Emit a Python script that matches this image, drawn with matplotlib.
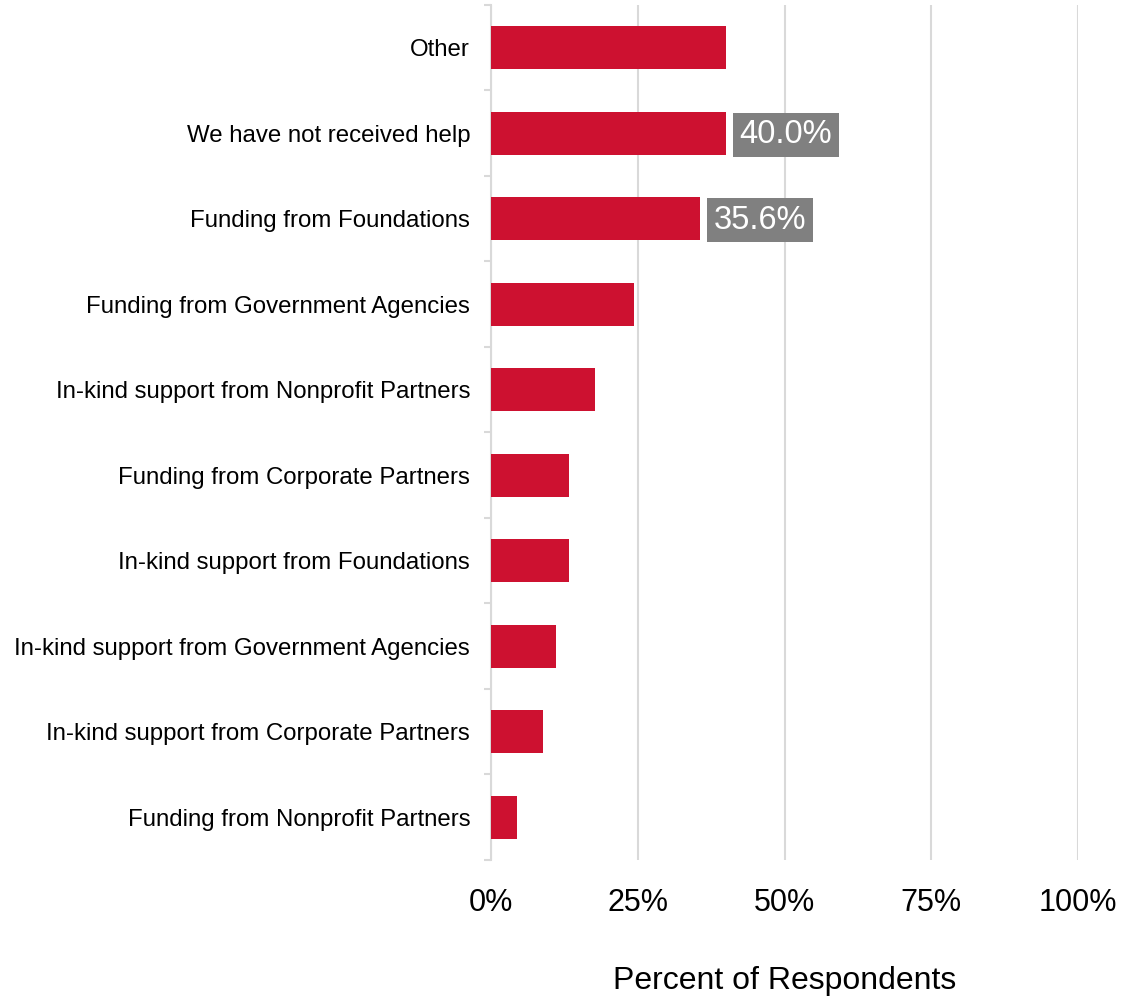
import matplotlib.pyplot as plt
import numpy as np
from matplotlib.ticker import FixedLocator, PercentFormatter

plt.rcParams['font.family'] = ['Liberation Sans', 'DejaVu Sans']

categories = [
    "Other",
    "We have not received help",
    "Funding from Foundations",
    "Funding from Government Agencies",
    "In-kind support from Nonprofit Partners",
    "Funding from Corporate Partners",
    "In-kind support from Foundations",
    "In-kind support from Government Agencies",
    "In-kind support from Corporate Partners",
    "Funding from Nonprofit Partners",
]
values = [0.400, 0.400, 0.356, 0.244, 0.178, 0.133, 0.133, 0.111, 0.089, 0.044]
labelled = [1, 2]  # bars that carry a value label

bar_color = '#CD1130'
grid_color = '#D9D9D9'

fig = plt.figure(figsize=(11.22, 9.98), dpi=100)
ax = fig.add_axes([0.4376, 0.1383, 0.5232, 0.8567])

y = np.arange(len(categories))
ax.barh(y, values, height=0.5, color=bar_color, zorder=3)

ax.set_xlim(0, 1)
ax.set_ylim(len(categories) - 0.5, -0.5)

# value labels in grey boxes
for i in labelled:
    ax.annotate(f"{values[i]*100:.1f}%", (values[i], y[i]), xytext=(10, -1),
                textcoords='offset points', ha='left', va='center',
                fontsize=23.5, color='white', zorder=4,
                bbox=dict(boxstyle='square,pad=0.2', fc='#808080', ec='none'))

# x axis
ax.xaxis.set_major_locator(FixedLocator([0, 0.25, 0.5, 0.75, 1.0]))
ax.xaxis.set_major_formatter(PercentFormatter(1.0, decimals=0))
ax.tick_params(axis='x', length=0, labelsize=22, pad=20)
ax.grid(axis='x', color=grid_color, linewidth=1.5, zorder=0)
ax.set_xlabel("Percent of Respondents", fontsize=23, labelpad=35)

# y axis: labels at centres, small ticks at category boundaries
ax.set_yticks(y)
ax.set_yticklabels(categories)
ax.tick_params(axis='y', which='major', length=0, labelsize=17.3, pad=15)
ax.yaxis.set_minor_locator(FixedLocator(np.arange(len(categories) + 1) - 0.5))
ax.tick_params(axis='y', which='minor', length=5, width=1.5, color=grid_color, direction='out')

for s in ['top', 'right', 'bottom']:
    ax.spines[s].set_visible(False)
ax.spines['left'].set_color(grid_color)
ax.spines['left'].set_linewidth(1.5)

plt.savefig("out.png", dpi=100)
